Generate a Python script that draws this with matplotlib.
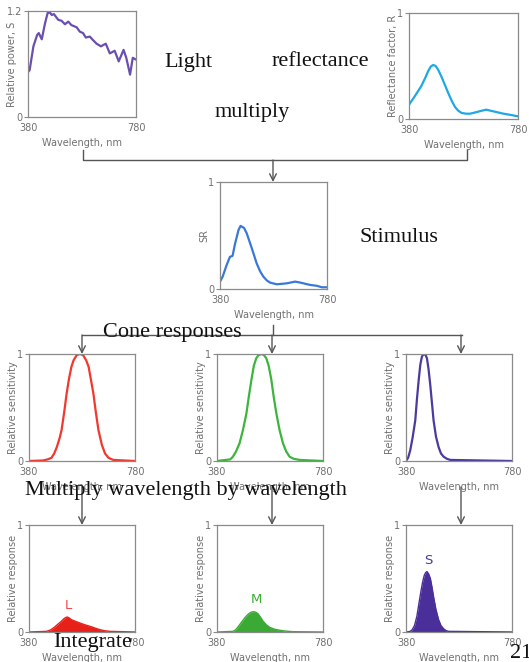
import matplotlib
matplotlib.use('Agg')
import matplotlib.pyplot as plt

W, H = 529, 662

# Light spectrum S
light_nm = [380, 386, 400, 414, 420, 431, 443, 453, 462, 468, 476, 492, 504, 517, 529, 541,
            560, 572, 584, 594, 609, 621, 634, 650, 668, 683, 701, 716, 734, 744, 758, 768, 780]
light_s = [0.51, 0.53, 0.80, 0.93, 0.95, 0.88, 1.06, 1.18, 1.18, 1.155, 1.165, 1.10, 1.09, 1.05,
           1.08, 1.04, 1.016, 0.966, 0.95, 0.90, 0.91, 0.87, 0.83, 0.80, 0.83, 0.72, 0.75, 0.63,
           0.76, 0.67, 0.48, 0.67, 0.65]

# Reflectance factor R
refl_nm = [380, 400, 425, 440, 450, 460, 469, 478, 488, 499, 512, 524, 537, 549, 560, 573, 590,
           604, 620, 635, 650, 663, 690, 727, 750, 780]
refl_r = [0.135, 0.21, 0.31, 0.39, 0.45, 0.495, 0.51, 0.50, 0.46, 0.40, 0.32, 0.245, 0.17, 0.113,
          0.08, 0.057, 0.05, 0.05, 0.06, 0.07, 0.08, 0.088, 0.072, 0.05, 0.04, 0.025]

# Stimulus SR
sr_nm = [380, 390, 405, 417, 427, 436, 449, 457, 470, 480, 499, 517, 530, 542, 555, 567, 592,
         630, 661, 680, 717, 742, 761, 780]
sr_v = [0.069, 0.116, 0.225, 0.30, 0.31, 0.42, 0.55, 0.59, 0.57, 0.52, 0.38, 0.24, 0.165, 0.116,
        0.08, 0.06, 0.044, 0.053, 0.069, 0.06, 0.038, 0.03, 0.016, 0.016]

# Cone sensitivities
l_nm = [380, 434, 450, 465, 475, 485, 495, 503, 513, 522, 531, 540, 548, 560, 572,
        584, 596, 605, 613, 623, 632, 642, 655, 667, 680, 698, 780]
l_sens = [0.0, 0.005, 0.015, 0.03, 0.07, 0.13, 0.21, 0.29, 0.46, 0.63, 0.77, 0.88, 0.94, 0.99, 1.0,
          0.99, 0.94, 0.88, 0.77, 0.63, 0.46, 0.29, 0.15, 0.07, 0.03, 0.01, 0.0]
m_nm = [380, 430, 440, 452, 465, 478, 491, 500, 510, 519, 528, 537, 547,
        557, 566, 575, 585, 594, 604, 616, 629, 641, 654, 670, 692, 780]
m_sens = [0.0, 0.015, 0.04, 0.09, 0.165, 0.29, 0.445, 0.60, 0.76, 0.89, 0.96, 0.99, 1.0,
          0.99, 0.96, 0.89, 0.76, 0.60, 0.445, 0.29, 0.165, 0.09, 0.04, 0.02, 0.01, 0.0]
s_nm = [380, 388, 396, 405, 415, 421, 428, 434, 440, 445, 449, 454, 459, 465, 472, 478, 484,
        493, 503, 512, 522, 535, 547, 780]
s_sens = [0.0, 0.03, 0.1, 0.22, 0.38, 0.57, 0.76, 0.90, 0.975, 0.995, 1.0, 0.99, 0.96, 0.86, 0.70,
          0.54, 0.38, 0.23, 0.13, 0.07, 0.04, 0.02, 0.01, 0.0]

# Cone responses
lr_nm = [380, 446, 462, 477, 490, 502, 510, 515, 520, 525, 532, 540, 555, 572, 590, 610, 630,
         647, 665, 685, 780]
lr_v = [0.0, 0.006, 0.02, 0.047, 0.075, 0.10, 0.12, 0.13, 0.137, 0.14, 0.13, 0.115, 0.10, 0.084,
        0.068, 0.053, 0.036, 0.022, 0.012, 0.006, 0.0]
mr_nm = [380, 440, 450, 459, 472, 484, 494, 503, 511, 518, 526, 535, 545, 554, 566, 579, 597,
         617, 640, 667, 780]
mr_v = [0.0, 0.006, 0.02, 0.047, 0.09, 0.13, 0.157, 0.177, 0.187, 0.19, 0.185, 0.17, 0.135, 0.10,
        0.068, 0.043, 0.026, 0.016, 0.008, 0.003, 0.0]
s_resp_nm = [380, 395, 403, 412, 421, 429, 437, 443, 449, 454, 459, 465, 472, 478, 484, 493,
             503, 512, 522, 531, 541, 780]
s_resp_v = [0.0, 0.005, 0.02, 0.06, 0.146, 0.27, 0.39, 0.47, 0.53, 0.555, 0.565, 0.545, 0.50,
            0.42, 0.33, 0.21, 0.115, 0.06, 0.03, 0.013, 0.006, 0.0]

GRAY = '#8a8a8a'
TXT = '#707070'
SERIF = ['Liberation Serif', 'DejaVu Serif']

fig = plt.figure(figsize=(W / 100, H / 100), dpi=100)


def panel(left, top, right, bottom, ylabel, ymax=1.0, ytop_label='1'):
    ax = fig.add_axes([left / W, 1 - bottom / H, (right - left) / W, (bottom - top) / H])
    ax.set_xlim(380, 780)
    ax.set_ylim(0, ymax)
    ax.set_xticks([380, 780])
    ax.set_xticklabels(['380', '780'])
    ax.set_yticks([0, ymax])
    ax.set_yticklabels(['0', ytop_label])
    for s in ax.spines.values():
        s.set_color(GRAY)
        s.set_linewidth(0.9)
    ax.tick_params(axis='x', length=0, pad=4, labelsize=7, labelcolor=TXT)
    ax.tick_params(axis='y', length=3, width=0.8, color=GRAY, pad=1, labelsize=7, labelcolor=TXT)
    ax.set_xlabel('Wavelength, nm', fontsize=7, color=TXT, labelpad=4)
    ax.set_ylabel(ylabel, fontsize=7, color=TXT)
    # keep the y label at a fixed pixel distance from the spine
    ax.yaxis.set_label_coords(-11 / (right - left), 0.5)
    return ax


a = panel(28, 11, 136, 117, 'Relative power, S', 1.2, '1.2')
a.plot(light_nm, light_s, color='#6a4fb0', lw=1.6)

b = panel(409, 13, 518, 119, 'Reflectance factor, R')
b.plot(refl_nm, refl_r, color='#1ea8e6', lw=1.6)

c = panel(220, 182, 327, 289, 'SR')
c.plot(sr_nm, sr_v, color='#3a78d8', lw=1.6)

cone_x = [(29, 135), (217, 323), (406, 512)]
cone_data = [(l_nm, l_sens, '#f2382c'), (m_nm, m_sens, '#3db43c'), (s_nm, s_sens, '#4b3aa0')]
for (x0, x1), (nm, v, col) in zip(cone_x, cone_data):
    ax = panel(x0, 354, x1, 461, 'Relative sensitivity')
    ax.plot(nm, v, color=col, lw=1.6)

resp_data = [(lr_nm, lr_v, '#e8201a', '#f04a4a', 'L', 527, 0.19),
             (mr_nm, mr_v, '#3aaa35', '#3aaa35', 'M', 528, 0.24),
             (s_resp_nm, s_resp_v, '#4a2f9a', '#4a3aa0', 'S', 465, 0.61)]
for (x0, x1), (nm, v, col, tcol, lab, lx, ly) in zip(cone_x, resp_data):
    ax = panel(x0, 525, x1, 632, 'Relative response')
    ax.fill_between(nm, v, 0, color=col, lw=0)
    ax.plot(nm, v, color=col, lw=1.0)
    ax.text(lx, ly, lab, color=tcol, fontsize=9.5, ha='center', va='bottom')

# overlay for connectors and captions
ov = fig.add_axes([0, 0, 1, 1])
ov.set_xlim(0, W)
ov.set_ylim(H, 0)
ov.axis('off')
ov.patch.set_alpha(0)

LC = '#555555'
ov.plot([83, 83, 467, 467], [150, 160, 160, 150], color=LC, lw=1)
ov.plot([273, 273], [325, 335], color=LC, lw=1)
ov.plot([82, 462], [335, 335], color=LC, lw=1)

arrows = [(273, 160, 182), (82, 335, 354), (272, 335, 354), (461, 335, 354),
          (82, 487, 525), (272, 487, 525), (461, 487, 525)]
for x, y0, y1 in arrows:
    ov.annotate('', xy=(x, y1), xytext=(x, y0),
                arrowprops=dict(arrowstyle='->', color=LC, lw=1, shrinkA=0, shrinkB=0,
                                mutation_scale=12))

captions = [('Light', 188, 63), ('reflectance', 320, 62), ('multiply', 252, 113),
            ('Stimulus', 399, 237), ('Cone responses', 172, 333),
            ('Multiply wavelength by wavelength', 186, 490), ('Integrate', 93, 642)]
for t, x, y in captions:
    ov.text(x, y, t, family=SERIF, fontsize=16, ha='center', va='center', color='#111111')
ov.text(510, 654, '21', family=SERIF, fontsize=16, ha='left', va='center', color='#111111')

fig.savefig('out.png', dpi=100)
